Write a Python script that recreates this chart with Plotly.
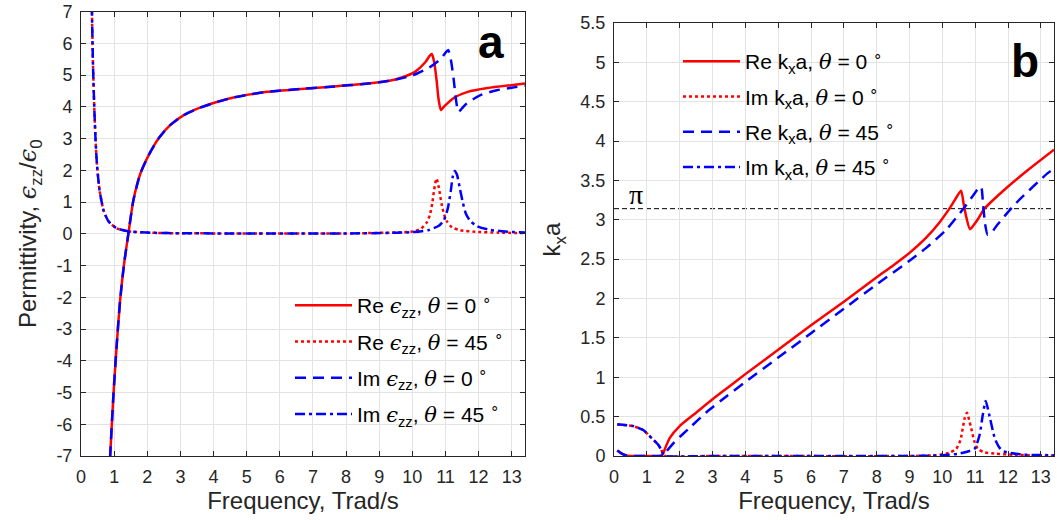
import plotly.graph_objects as go
import numpy as np

# ---------------- Panel a: permittivity ----------------
# Re eps_zz, theta = 0 (solid red)
f_a_re0 = [0.85, 0.88, 0.98, 1.08, 1.18, 1.30, 1.43, 1.58, 1.79, 2.04, 2.34, 2.69, 3.09, 3.59,
           4.1, 4.6, 5.1, 5.63, 6.64, 7.65, 8.66, 9.27, 9.68, 10.08, 10.39, 10.52, 10.59, 10.66,
           10.73, 10.79, 10.86, 10.97, 11.27, 11.67, 12.27, 12.98, 13.4]
a_re0 = [-7.6, -7.0, -5.05, -3.47, -2.1, -0.95, 0.0, 1.05, 1.89, 2.47, 3.0, 3.42, 3.73, 3.97,
         4.15, 4.29, 4.39, 4.47, 4.56, 4.64, 4.73, 4.81, 4.92, 5.1, 5.4, 5.6, 5.66, 5.4,
         4.85, 4.25, 3.9, 4.02, 4.29, 4.47, 4.59, 4.68, 4.73]

# second curve drawn dotted red (Im, theta = 0)
f_a_dot = [0.30, 0.33, 0.36, 0.40, 0.44, 0.48, 0.56, 0.68, 0.83, 1.08, 1.48, 2.19, 3.0, 5.0, 8.0,
           9.5, 10.0, 10.25, 10.43, 10.53, 10.6, 10.66, 10.73, 10.8, 10.88, 10.96, 11.05, 11.2,
           11.45, 11.9, 12.6, 13.4]
a_dot = [8.5, 7.0, 5.4, 4.0, 2.95, 2.2, 1.37, 0.74, 0.39, 0.17, 0.07, 0.03, 0.015, 0.01, 0.01,
         0.04, 0.07, 0.15, 0.35, 0.6, 0.95, 1.4, 1.74, 1.45, 0.95, 0.6, 0.38, 0.2,
         0.11, 0.06, 0.035, 0.02]

# third curve drawn dashed blue (Re, theta = 45)
f_a_dash = [0.85, 0.88, 0.98, 1.08, 1.18, 1.30, 1.43, 1.58, 1.79, 2.04, 2.34, 2.69, 3.09, 3.59,
            4.1, 4.6, 5.1, 5.63, 6.64, 7.65, 8.66, 9.0, 9.5, 10.02, 10.52, 10.85, 11.0, 11.08,
            11.16, 11.25, 11.32, 11.39, 11.5, 11.64, 12.04, 12.55, 13.0, 13.4]
a_dash = [-7.6, -7.0, -5.05, -3.47, -2.1, -0.95, 0.0, 1.05, 1.89, 2.47, 3.0, 3.42, 3.73, 3.97,
          4.15, 4.29, 4.39, 4.47, 4.56, 4.64, 4.73, 4.77, 4.86, 4.99, 5.24, 5.5, 5.7, 5.79,
          5.5, 4.84, 4.2, 3.84, 3.95, 4.1, 4.36, 4.52, 4.6, 4.66]

# fourth curve drawn dash-dot blue (Im, theta = 45)
f_a_dd = [0.30, 0.33, 0.36, 0.40, 0.44, 0.48, 0.56, 0.68, 0.83, 1.08, 1.48, 2.19, 3.0, 5.0, 8.0,
          9.5, 10.0, 10.5, 10.8, 10.95, 11.07, 11.16, 11.22, 11.28, 11.35, 11.43, 11.52, 11.62,
          11.75, 11.95, 12.3, 12.8, 13.4]
a_dd = [8.5, 7.0, 5.4, 4.0, 2.95, 2.2, 1.37, 0.74, 0.39, 0.17, 0.07, 0.03, 0.015, 0.01, 0.01,
        0.03, 0.05, 0.12, 0.25, 0.42, 0.8, 1.35, 1.8, 1.98, 1.85, 1.45, 1.0, 0.62,
        0.4, 0.24, 0.13, 0.07, 0.04]

legend_a = ["Re {e}<sub>zz</sub>, {t} = 0 <sup>∘</sup>",
            "Re {e}<sub>zz</sub>, {t} = 45 <sup>∘</sup>",
            "Im {e}<sub>zz</sub>, {t} = 0 <sup>∘</sup>",
            "Im {e}<sub>zz</sub>, {t} = 45 <sup>∘</sup>"]

# ---------------- Panel b: wavenumber ----------------
f_b_re0 = [0.1, 0.2, 0.35, 0.5, 1.0, 1.4, 1.48, 1.55, 1.7, 2.0, 2.5, 3.0, 3.5, 4.0, 5.0, 6.0,
           7.0, 8.0, 8.5, 9.0, 9.5, 9.9, 10.26, 10.45, 10.57, 10.65, 10.72, 10.84, 10.95, 11.07,
           11.28, 11.83, 12.54, 13.4]
b_re0 = [0.07, 0.04, 0.01, 0.0, 0.0, 0.0, 0.02, 0.09, 0.23, 0.38, 0.55, 0.72, 0.88, 1.04, 1.35,
         1.66, 1.96, 2.27, 2.42, 2.58, 2.77, 2.96, 3.17, 3.3, 3.37, 3.2, 3.05, 2.88, 2.93, 3.0,
         3.14, 3.36, 3.61, 3.89]

f_b_im0 = [0.1, 0.18, 0.4, 0.58, 0.89, 1.14, 1.34, 1.44, 1.5, 1.55, 3.0, 9.0, 9.8, 10.2, 10.42,
           10.55, 10.62, 10.68, 10.75, 10.82, 10.88, 10.98, 11.08, 11.25, 11.6, 12.2, 13.4]
b_im0 = [0.40, 0.40, 0.39, 0.38, 0.33, 0.23, 0.145, 0.08, 0.02, 0.0, 0.0, 0.0, 0.01, 0.04, 0.09,
         0.2, 0.35, 0.48, 0.55, 0.45, 0.35, 0.18, 0.09, 0.05, 0.03, 0.015, 0.005]

f_b_re45 = [0.1, 0.2, 0.35, 0.5, 1.0, 1.4, 1.5, 1.58, 1.7, 1.85, 2.05, 2.31, 2.8, 3.43, 4.0, 5.0,
            6.0, 7.0, 8.0, 9.0, 9.5, 10.11, 10.62, 10.92, 11.1, 11.18, 11.24, 11.3, 11.38,
            11.5, 11.68, 12.24, 13.2, 13.4]
b_re45 = [0.07, 0.04, 0.01, 0.0, 0.0, 0.0, 0.0, 0.05, 0.11, 0.18, 0.26, 0.36, 0.55, 0.76, 0.94,
          1.25, 1.56, 1.87, 2.18, 2.48, 2.64, 2.87, 3.13, 3.3, 3.4, 3.42, 3.2, 2.95, 2.81,
          2.84, 2.94, 3.21, 3.59, 3.65]

f_b_im45 = [0.1, 0.18, 0.4, 0.58, 0.89, 1.14, 1.34, 1.44, 1.5, 1.55, 3.0, 9.0, 10.0, 10.5, 10.8,
            10.98, 11.13, 11.23, 11.32, 11.44, 11.6, 11.75, 11.86, 12.4, 13.4]
b_im45 = [0.40, 0.40, 0.39, 0.38, 0.33, 0.23, 0.145, 0.08, 0.02, 0.0, 0.0, 0.0, 0.01, 0.03, 0.06,
          0.09, 0.26, 0.52, 0.70, 0.5, 0.22, 0.1, 0.06, 0.02, 0.01]

legend_b = ["Re k<sub>x</sub>a, {t} = 0 <sup>∘</sup>",
            "Im k<sub>x</sub>a, {t} = 0 <sup>∘</sup>",
            "Re k<sub>x</sub>a, {t} = 45 <sup>∘</sup>",
            "Im k<sub>x</sub>a, {t} = 45 <sup>∘</sup>"]

pi_level = np.pi

# ---------------- ticks ----------------
freq_ticks = list(range(0, 14))
freq_tick_text = [str(v) for v in freq_ticks]
eps_ticks = list(range(-7, 8))
eps_tick_text = [str(v) for v in eps_ticks]
k_ticks = [0, 0.5, 1, 1.5, 2, 2.5, 3, 3.5, 4, 4.5, 5, 5.5]
k_tick_text = ["0", "0.5", "1", "1.5", "2", "2.5", "3", "3.5", "4", "4.5", "5", "5.5"]

# ---------------- styling ----------------
RED = "#ff0000"
BLUE = "#0000ff"
LW = 2.5
FONT = "Liberation Sans, Arial, Helvetica, sans-serif"
AX = "#262626"
GRID = "#e3e3e3"
EPS = "<span style='font-family:DejaVu Serif'><i>ϵ</i></span>"
TH = "<span style='font-family:DejaVu Serif'><i>θ</i></span>"

DASH = "11px,7px"
DOT = "3px,3px"
DASHDOT = "10px,4px,3px,4px"

fig = go.Figure()

styles = [(RED, "solid"), (RED, DOT), (BLUE, DASH), (BLUE, DASHDOT)]
data_a = [(f_a_re0, a_re0), (f_a_dot, a_dot), (f_a_dash, a_dash), (f_a_dd, a_dd)]
for i, ((xs, ys), (col, dash), name) in enumerate(zip(data_a, styles, legend_a)):
    fig.add_trace(go.Scatter(x=xs, y=ys, mode="lines",
                             line=dict(color=col, width=LW, dash=dash, shape="spline", smoothing=0.6),
                             name=name.format(e=EPS, t=TH), legendgroup=f"a{i}",
                             legend="legend", xaxis="x", yaxis="y"))

data_b = [(f_b_re0, b_re0), (f_b_im0, b_im0), (f_b_re45, b_re45), (f_b_im45, b_im45)]
for i, ((xs, ys), (col, dash), name) in enumerate(zip(data_b, styles, legend_b)):
    fig.add_trace(go.Scatter(x=xs, y=ys, mode="lines",
                             line=dict(color=col, width=LW, dash=dash, shape="spline", smoothing=0.6),
                             name=name.format(t=TH), legendgroup=f"b{i}",
                             legend="legend2", xaxis="x2", yaxis="y2"))

fig.add_shape(type="line", xref="x2 domain", yref="y2", x0=0, x1=1, y0=pi_level, y1=pi_level,
              line=dict(color="black", width=1, dash="5px,3px"), layer="below")
fig.add_annotation(x=0.67, y=pi_level, xref="x2", yref="y2", text="π", showarrow=False,
                   yanchor="bottom", yshift=-3,
                   font=dict(family="Liberation Serif", size=28, color="black"))

fig.add_annotation(x=491 / 1057, y=1 - 42 / 520, xref="paper", yref="paper", text="<b>a</b>",
                   xanchor="center", yanchor="middle",
                   showarrow=False, font=dict(family=FONT, size=46, color="black"))
fig.add_annotation(x=1025 / 1057, y=1 - 61 / 520, xref="paper", yref="paper", text="<b>b</b>",
                   xanchor="center", yanchor="middle",
                   showarrow=False, font=dict(family=FONT, size=46, color="black"))

axis_common = dict(showline=True, linecolor=AX, linewidth=1, mirror="ticks", ticks="inside",
                   ticklen=5, tickcolor=AX, showgrid=True, gridcolor=GRID, gridwidth=1,
                   zeroline=False, tickfont=dict(family=FONT, size=18, color=AX),
                   ticklabelstandoff=4, automargin=False)

fig.update_layout(
    width=1057, height=520,
    margin=dict(l=0, r=0, t=0, b=0, pad=0, autoexpand=False),
    paper_bgcolor="white", plot_bgcolor="white",
    font=dict(family=FONT, color=AX),
    xaxis=dict(domain=[81 / 1057, 525 / 1057], range=[0, 13.4], tickvals=freq_ticks,
               ticktext=freq_tick_text, anchor="y",
               title=dict(text="Frequency, Trad/s", font=dict(size=24, color=AX), standoff=4),
               **axis_common),
    yaxis=dict(domain=[64 / 520, 508.5 / 520], range=[-7, 7], tickvals=eps_ticks,
               ticktext=eps_tick_text, anchor="x",
               title=dict(text=f"Permittivity, {EPS}<sub>zz</sub>/{EPS}<sub>0</sub>",
                          font=dict(size=24, color=AX), standoff=12),
               **axis_common),
    xaxis2=dict(domain=[614 / 1057, 1054 / 1057], range=[0, 13.4], tickvals=freq_ticks,
                ticktext=freq_tick_text, anchor="y2",
                title=dict(text="Frequency, Trad/s", font=dict(size=24, color=AX), standoff=4),
                **axis_common),
    yaxis2=dict(domain=[64 / 520, 497 / 520], range=[0, 5.5], tickvals=k_ticks,
                ticktext=k_tick_text, anchor="x2",
                title=dict(text="k<sub>x</sub>a", font=dict(size=24, color=AX), standoff=12),
                **axis_common),
    legend=dict(x=290 / 1057, y=1 - 285 / 520, xanchor="left", yanchor="top",
                bgcolor="rgba(0,0,0,0)", borderwidth=0, traceorder="grouped", itemwidth=57,
                tracegroupgap=6, font=dict(family=FONT, size=21, color="black")),
    legend2=dict(x=678 / 1057, y=1 - 41 / 520, xanchor="left", yanchor="top",
                 bgcolor="rgba(0,0,0,0)", borderwidth=0, traceorder="grouped", itemwidth=57,
                 tracegroupgap=5, font=dict(family=FONT, size=21, color="black")),
    showlegend=True,
)

fig.write_html("out.html")
